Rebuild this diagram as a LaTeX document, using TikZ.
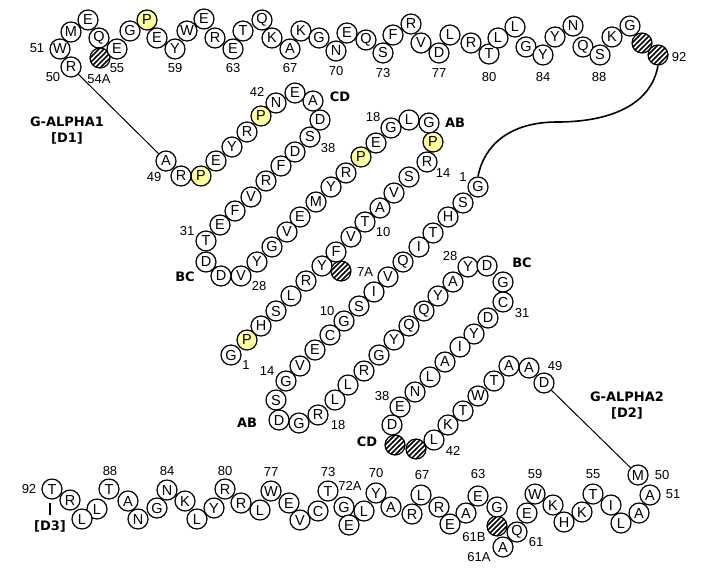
\documentclass[tikz,border=0pt]{standalone}
\usepackage{fontspec}
\setmainfont{Liberation Sans}
\newfontfamily\dvs{DejaVu Sans}
\definecolor{proyel}{RGB}{255,255,160}
\tikzset{
 resw/.style={circle,draw,line width=1.2pt,fill=white,minimum size=20pt,inner sep=0pt,font=\fontsize{14.5}{15}\selectfont},
 resy/.style={resw,fill=proyel},
 resh/.style={resw,path picture={\foreach \k in {-4,...,4}{\draw[line width=1.5pt] ([xshift=\k*5pt-13pt,yshift=-13pt]path picture bounding box.center) -- ++(26pt,26pt);}}},
 num/.style={inner sep=0pt,font=\fontsize{13}{14}\selectfont},
 segtag/.style={inner sep=0pt,font=\dvs\bfseries\fontsize{13}{14}\selectfont},
 domtag/.style={segtag,align=center},
 conn/.style={line width=1pt},
 linkcurve/.style={line width=1.6pt},
}
\newcommand\resW[4]{\node[resw] (#1) at (#2,#3) {#4};}
\newcommand\resY[4]{\node[resy] (#1) at (#2,#3) {#4};}
\newcommand\resH[3]{\node[resh] (#1) at (#2,#3) {};}
\newcommand\numAt[4]{\node[num] (#1) at (#2,#3) {#4};}
\newcommand\tagAt[4]{\node[segtag] (#1) at (#2,#3) {#4};}
\begin{document}
\begin{tikzpicture}[x=1pt,y=-1pt]
\useasboundingbox (0,0) rectangle (711,574);
% ---------- top chain, G-ALPHA1 50-92
\resW{ta50}{71}{67}{R}
\resW{ta51}{60}{49}{W}
\resW{ta52}{71}{32}{M}
\resW{ta53}{88}{20}{E}
\resW{ta54}{99}{38}{Q}
\resH{ta54a}{100}{58}
\resW{ta55}{117}{49}{E}
\resW{ta56}{130}{31}{G}
\resY{ta57}{147}{20}{P}
\resW{ta58}{157}{38}{E}
\resW{ta59}{175}{49}{Y}
\resW{ta60}{187}{31}{W}
\resW{ta61}{204}{19}{E}
\resW{ta62}{215}{38}{R}
\resW{ta63}{233}{49}{E}
\resW{ta64}{243}{31}{T}
\resW{ta65}{262}{20}{Q}
\resW{ta66}{272}{38}{K}
\resW{ta67}{290}{49}{A}
\resW{ta68}{301}{31}{K}
\resW{ta69}{319}{38}{G}
\resW{ta70}{336}{51}{N}
\resW{ta71}{347}{33}{E}
\resW{ta72}{366}{40}{Q}
\resW{ta73}{383}{53}{S}
\resW{ta74}{393}{35}{F}
\resW{ta75}{411}{24}{R}
\resW{ta76}{421}{43}{V}
\resW{ta77}{439}{53}{D}
\resW{ta78}{450}{35}{L}
\resW{ta79}{471}{43}{R}
\resW{ta80}{489}{54}{T}
\resW{ta81}{498}{38}{L}
\resW{ta82}{515}{27}{L}
\resW{ta83}{526}{47}{G}
\resW{ta84}{543}{55}{Y}
\resW{ta85}{555}{37}{Y}
\resW{ta86}{573}{26}{N}
\resW{ta87}{583}{47}{Q}
\resW{ta88}{600}{55}{S}
\resW{ta89}{612}{37}{K}
\resW{ta90}{630}{26}{G}
\resH{ta91}{642}{43}
\resH{ta92}{658}{55}
% ---------- G-ALPHA1 strands 1-49
\resW{da1}{231}{355}{G}
\resY{da2}{247}{340}{P}
\resW{da3}{261}{326}{H}
\resW{da4}{276}{311}{S}
\resW{da5}{291}{296}{L}
\resW{da6}{306}{281}{R}
\resW{da7}{322}{266}{Y}
\resH{da7a}{341}{271}
\resW{da8}{336}{252}{F}
\resW{da9}{351}{237}{V}
\resW{da10}{365}{222}{T}
\resW{da11}{380}{208}{A}
\resW{da12}{394}{193}{V}
\resW{da13}{409}{177}{S}
\resW{da14}{427}{162}{R}
\resY{da15}{433}{142}{P}
\resW{da16}{429}{123}{G}
\resW{da17}{409}{120}{L}
\resW{da18}{391}{128}{G}
\resW{da19}{376}{143}{E}
\resY{da20}{361}{157}{P}
\resW{da21}{346}{173}{R}
\resW{da22}{331}{187}{Y}
\resW{da23}{316}{202}{M}
\resW{da24}{300}{217}{E}
\resW{da25}{287}{232}{V}
\resW{da26}{272}{247}{G}
\resW{da27}{257}{262}{Y}
\resW{da28}{241}{276}{V}
\resW{da29}{221}{276}{D}
\resW{da30}{206}{262}{D}
\resW{da31}{206}{241}{T}
\resW{da32}{220}{225}{E}
\resW{da33}{235}{211}{F}
\resW{da34}{251}{197}{V}
\resW{da35}{266}{181}{R}
\resW{da36}{281}{166}{F}
\resW{da37}{295}{152}{D}
\resW{da38}{310}{137}{S}
\resW{da39}{320}{120}{D}
\resW{da40}{313}{101}{A}
\resW{da41}{295}{93}{E}
\resW{da42}{276}{103}{N}
\resY{da43}{261}{116}{P}
\resW{da44}{247}{132}{R}
\resW{da45}{232}{147}{Y}
\resW{da46}{216}{161}{E}
\resY{da47}{201}{176}{P}
\resW{da48}{181}{176}{R}
\resW{da49}{166}{161}{A}
% ---------- G-ALPHA2 strands 1-49
\resW{db1}{478}{187}{G}
\resW{db2}{463}{203}{S}
\resW{db3}{448}{217}{H}
\resW{db4}{433}{233}{T}
\resW{db5}{419}{247}{I}
\resW{db6}{403}{262}{Q}
\resW{db7}{388}{277}{V}
\resW{db8}{374}{292}{I}
\resW{db9}{359}{306}{S}
\resW{db10}{344}{321}{G}
\resW{db11}{330}{335}{C}
\resW{db12}{315}{350}{E}
\resW{db13}{300}{366}{V}
\resW{db14}{286}{381}{G}
\resW{db15}{276}{400}{S}
\resW{db16}{279}{420}{D}
\resW{db17}{299}{423}{G}
\resW{db18}{318}{415}{R}
\resW{db19}{335}{400}{L}
\resW{db20}{348}{385}{L}
\resW{db21}{364}{371}{R}
\resW{db22}{379}{355}{G}
\resW{db23}{394}{340}{Y}
\resW{db24}{409}{326}{Q}
\resW{db25}{424}{311}{Q}
\resW{db26}{438}{296}{Y}
\resW{db27}{453}{282}{A}
\resW{db28}{468}{267}{Y}
\resW{db29}{487}{266}{D}
\resW{db30}{503}{282}{G}
\resW{db31}{503}{302}{C}
\resW{db32}{488}{318}{D}
\resW{db33}{474}{334}{Y}
\resW{db34}{460}{347}{I}
\resW{db35}{445}{362}{A}
\resW{db36}{430}{377}{L}
\resW{db37}{415}{392}{N}
\resW{db38}{400}{407}{E}
\resW{db39}{392}{425}{D}
\resH{db40}{395}{445}
\resH{db41}{416}{449}
\resW{db42}{434}{440}{L}
\resW{db43}{448}{425}{K}
\resW{db44}{463}{411}{T}
\resW{db45}{478}{396}{W}
\resW{db46}{494}{381}{T}
\resW{db47}{509}{366}{A}
\resW{db48}{529}{368}{A}
\resW{db49}{544}{383}{D}
% ---------- bottom chain, G-ALPHA2 50-92
\resW{dc50}{638}{475}{M}
\resW{dc51}{650}{495}{A}
\resW{dc52}{639}{513}{A}
\resW{dc53}{621}{523}{L}
\resW{dc54}{611}{505}{I}
\resW{dc55}{593}{494}{T}
\resW{dc56}{582}{512}{K}
\resW{dc57}{564}{522}{H}
\resW{dc58}{553}{505}{K}
\resW{dc59}{535}{494}{W}
\resW{dc60}{527}{513}{E}
\resW{dc61}{517}{532}{Q}
\resW{dc61a}{503}{547}{A}
\resH{dc61b}{497}{526}
\resW{dc62}{497}{507}{G}
\resW{dc63}{478}{496}{E}
\resW{dc64}{466}{513}{A}
\resW{dc65}{450}{524}{E}
\resW{dc66}{439}{507}{R}
\resW{dc67}{421}{495}{L}
\resW{dc68}{412}{514}{R}
\resW{dc69}{391}{507}{A}
\resW{dc70}{376}{493}{Y}
\resW{dc71}{364}{511}{L}
\resW{dc72a}{344}{507}{G}
\resW{dc72}{349}{525}{E}
\resW{dc73}{328}{491}{T}
\resW{dc74}{318}{511}{C}
\resW{dc75}{300}{520}{V}
\resW{dc76}{289}{503}{E}
\resW{dc77}{271}{491}{W}
\resW{dc78}{260}{510}{L}
\resW{dc79}{241}{503}{R}
\resW{dc80}{225}{489}{R}
\resW{dc81}{214}{508}{Y}
\resW{dc82}{197}{519}{L}
\resW{dc83}{185}{501}{K}
\resW{dc84}{167}{490}{N}
\resW{dc85}{157}{508}{G}
\resW{dc86}{138}{519}{N}
\resW{dc87}{128}{501}{A}
\resW{dc88}{109}{489}{T}
\resW{dc89}{97}{509}{L}
\resW{dc90}{82}{519}{L}
\resW{dc91}{70}{500}{R}
\resW{dc92}{52}{489}{T}
% ---------- number labels
\numAt{n51}{37}{48}{51}
\numAt{n50}{53}{77}{50}
\numAt{n54a}{99}{79}{54A}
\numAt{n55}{117}{68}{55}
\numAt{n59}{175}{68}{59}
\numAt{n63}{233}{68}{63}
\numAt{n67}{290}{68}{67}
\numAt{n70}{336}{71}{70}
\numAt{n73}{383}{73}{73}
\numAt{n77}{439}{73}{77}
\numAt{n80}{489}{77}{80}
\numAt{n84}{543}{77}{84}
\numAt{n88}{599}{77}{88}
\numAt{n92}{679}{57}{92}
\numAt{m49}{154}{177}{49}
\numAt{m42}{257}{92}{42}
\numAt{m38}{328}{148}{38}
\numAt{m18}{373}{117}{18}
\numAt{m14}{443}{173}{14}
\numAt{m10}{383}{232}{10}
\numAt{m7a}{365}{272}{7A}
\numAt{m31}{187}{231}{31}
\numAt{m28}{259}{286}{28}
\numAt{m1}{246}{365}{1}
\numAt{k1}{463}{177}{1}
\numAt{k10}{327}{311}{10}
\numAt{k14}{267}{371}{14}
\numAt{k18}{338}{425}{18}
\numAt{k28}{450}{256}{28}
\numAt{k31}{522}{313}{31}
\numAt{k38}{382}{396}{38}
\numAt{k42}{453}{451}{42}
\numAt{k49}{555}{366}{49}
\numAt{b50}{662}{475}{50}
\numAt{b51}{673}{494}{51}
\numAt{b55}{593}{474}{55}
\numAt{b59}{535}{474}{59}
\numAt{b63}{478}{474}{63}
\numAt{b61}{536}{542}{61}
\numAt{b61b}{474}{537}{61B}
\numAt{b61a}{479}{557}{61A}
\numAt{b67}{422}{475}{67}
\numAt{b70}{376}{473}{70}
\numAt{b72a}{350}{486}{72A}
\numAt{b73}{328}{472}{73}
\numAt{b77}{271}{472}{77}
\numAt{b80}{225}{471}{80}
\numAt{b84}{167}{471}{84}
\numAt{b88}{110}{471}{88}
\numAt{b92}{29}{489}{92}
% ---------- loop tags
\tagAt{tcd1}{340}{97}{CD}
\tagAt{tab1}{455}{123}{AB}
\tagAt{tbc1}{185}{277}{BC}
\tagAt{tab2}{247}{423}{AB}
\tagAt{tbc2}{522}{263}{BC}
\tagAt{tcd2}{367}{442}{CD}
\tagAt{td3}{50}{526}{[D3]}
\node[domtag] (g1) at (67,131) {G-ALPHA1\\[2pt][D1]};
\node[domtag] (g2) at (627,406) {G-ALPHA2\\[2pt][D2]};
% ---------- connectors
\draw[conn] (ta50) -- (da49);
\draw[conn] (db49) -- (dc50);
\coordinate (bendmid) at (557,122);
\draw[linkcurve] (ta92.south) .. controls (651,105) and (610,122) .. (bendmid)
  .. controls (510,122) and (484,145) .. (db1.north);
\coordinate (tk1) at (50,503);
\coordinate (tk2) at (50,515);
\draw[conn,line width=1.3pt] (tk1) -- (tk2);
\end{tikzpicture}
\end{document}
